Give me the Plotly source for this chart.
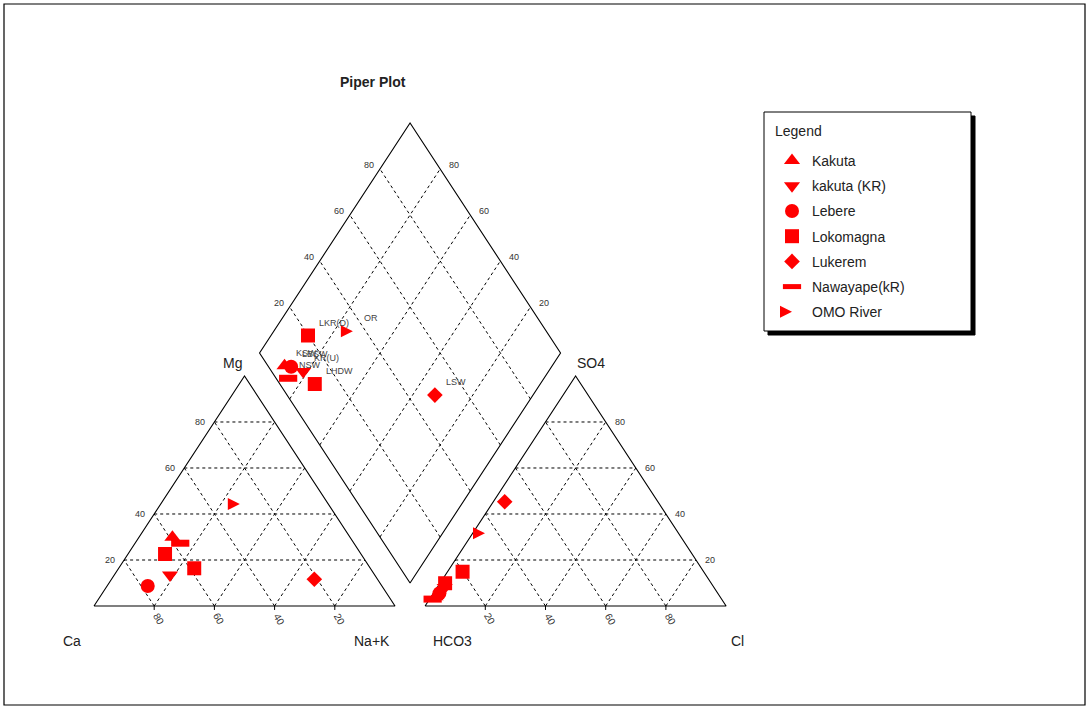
import math
import plotly.graph_objects as go

# ---------------- data ----------------
sites = ["Kakuta", "kakuta (KR)", "Lebere", "Lokomagna", "Lukerem", "Nawayape(kR)", "OMO River"]
site_symbols = ["triangle-up", "triangle-down", "circle", "square", "diamond", "line-ew", "arrow-right"]

sample_site = ["Kakuta", "kakuta (KR)", "Lebere", "Lokomagna", "Lokomagna", "Lukerem", "Nawayape(kR)", "OMO River"]
sample_label = ["KSW", "KR(U)", "LBSW", "LKR(D)", "LHDW", "LSW", "NSW", "OR"]
ca = [59.0, 68.0, 77.8, 65.1, 58.5, 21.0, 57.7, 29.4]
mg = [29.9, 13.5, 8.7, 22.6, 16.4, 11.6, 27.3, 44.3]
nak = [11.1, 18.5, 13.5, 12.3, 25.1, 67.4, 15.0, 26.3]
hco3 = [94.5, 89.5, 92.5, 80.1, 88.4, 50.9, 96.0, 64.3]
so4 = [4.0, 8.0, 5.5, 14.9, 9.9, 45.3, 3.0, 31.6]
cl = [1.5, 2.5, 2.0, 5.0, 1.7, 3.8, 1.0, 4.1]

ticks = [20, 40, 60, 80]
cation_base_ticks = [80, 60, 40, 20]
anion_base_ticks = [20, 40, 60, 80]

# ---------------- geometry ----------------
S3 = math.sqrt(3) / 2
GAP = 10.0
AX0 = 100 + GAP  # anion triangle left corner
BOT = ((100 + AX0) / 2, GAP / 2 * math.sqrt(3))
LEFT = (BOT[0] - 50, BOT[1] + 100 * S3)
RIGHT = (BOT[0] + 50, BOT[1] + 100 * S3)
TOP = (BOT[0], BOT[1] + 200 * S3)


def norm(a, b, c):
    t = a + b + c
    return 100 * a / t, 100 * b / t, 100 * c / t


cat_x, cat_y, an_x, an_y, di_x, di_y = [], [], [], [], [], []
for i in range(len(sample_site)):
    c, m, n = norm(ca[i], mg[i], nak[i])
    h, s, l = norm(hco3[i], so4[i], cl[i])
    cat_x.append(n + m / 2)
    cat_y.append(m * S3)
    an_x.append(AX0 + l + s / 2)
    an_y.append(s * S3)
    A = c + m
    B = s + l
    di_x.append(BOT[0] + (B - A) / 2)
    di_y.append(BOT[1] + (A + B) * S3)

fig = go.Figure()

DASH = "3px,3px"


def line(xs, ys, dash=None, width=1.1):
    fig.add_trace(go.Scatter(x=xs, y=ys, mode="lines", showlegend=False, hoverinfo="skip",
                             line=dict(color="black", width=width, dash=dash)))


# grid lines
for t in ticks:
    # cation
    line([t / 2, 100 - t / 2], [t * S3, t * S3], DASH, 1)
    line([t, 50 + t / 2], [0, (100 - t) * S3], DASH, 1)
    line([t, t / 2], [0, t * S3], DASH, 1)
    # anion
    line([AX0 + t / 2, AX0 + 100 - t / 2], [t * S3, t * S3], DASH, 1)
    line([AX0 + t, AX0 + 50 + t / 2], [0, (100 - t) * S3], DASH, 1)
    line([AX0 + t, AX0 + t / 2], [0, t * S3], DASH, 1)
    # diamond
    f = t / 100
    p1 = (BOT[0] - 50 * f, BOT[1] + 100 * S3 * f)
    p2 = (RIGHT[0] - 50 * f, RIGHT[1] + 100 * S3 * f)
    line([p1[0], p2[0]], [p1[1], p2[1]], DASH, 1)
    q1 = (BOT[0] + 50 * f, BOT[1] + 100 * S3 * f)
    q2 = (LEFT[0] + 50 * f, LEFT[1] + 100 * S3 * f)
    line([q1[0], q2[0]], [q1[1], q2[1]], DASH, 1)

# outlines
line([0, 100, 50, 0], [0, 0, 100 * S3, 0])
line([AX0, AX0 + 100, AX0 + 50, AX0], [0, 0, 100 * S3, 0])
line([BOT[0], RIGHT[0], TOP[0], LEFT[0], BOT[0]], [BOT[1], RIGHT[1], TOP[1], LEFT[1], BOT[1]])

# base tick marks
for t in ticks:
    line([t, t], [0, -1.5], None, 1)
    line([AX0 + t, AX0 + t], [0, -1.5], None, 1)

# data markers
for site, sym in zip(sites, site_symbols):
    idx = [i for i, s in enumerate(sample_site) if s == site]
    xs, ys = [], []
    for i in idx:
        xs += [cat_x[i], an_x[i], di_x[i]]
        ys += [cat_y[i], an_y[i], di_y[i]]
    if sym == "line-ew":
        marker = dict(symbol=sym, size=13, color="#ff0000", line=dict(color="#ff0000", width=7))
    elif sym == "arrow-right":
        marker = dict(symbol=sym, size=12, color="#ff0000", line=dict(width=0))
    elif sym == "diamond":
        marker = dict(symbol=sym, size=12, color="#ff0000", line=dict(width=0))
    else:
        marker = dict(symbol=sym, size=14, color="#ff0000", line=dict(width=0))
    fig.add_trace(go.Scatter(x=xs, y=ys, mode="markers", name=site, marker=marker,
                             legendgroup=site))

ann = []
FONT = "Liberation Sans, Arial, sans-serif"
TCOL = "#333333"


def txt(x, y, s, xs=0, ys=0, size=9, angle=0, color=TCOL, xanchor="center"):
    ann.append(dict(x=x, y=y, xref="x", yref="y", text=s, showarrow=False, xshift=xs, yshift=ys,
                    textangle=angle, xanchor=xanchor, yanchor="middle",
                    font=dict(family=FONT, size=size, color=color)))


for t in ticks:
    txt(t / 2, t * S3, str(t), xs=-14)
    txt(AX0 + 100 - t / 2, t * S3, str(t), xs=14)
    f = t / 100
    txt(LEFT[0] + 50 * f, LEFT[1] + 100 * S3 * f, str(t), xs=-11, ys=4)
    txt(RIGHT[0] - 50 * f, RIGHT[1] + 100 * S3 * f, str(t), xs=14, ys=4)
for t in cation_base_ticks:
    txt(100 - t, 0, str(t), xs=5, ys=-13, size=10, angle=60)
for t in anion_base_ticks:
    txt(AX0 + t, 0, str(t), xs=5, ys=-13, size=10, angle=60)

# sample labels in diamond
for i in range(len(sample_label)):
    txt(di_x[i], di_y[i], sample_label[i], xs=9, ys=13, size=9, color="#444444", xanchor="left")

# axis names
txt(50, 100 * S3, "Mg", xs=-12, ys=13, size=14, color="#222222")
txt(AX0 + 50, 100 * S3, "SO4", xs=15, ys=13, size=14, color="#222222")
txt(0, 0, "Ca", xs=-22, ys=-35, size=14, color="#222222")
txt(100, 0, "Na+K", xs=-23, ys=-35, size=14, color="#222222")
txt(AX0, 0, "HCO3", xs=27, ys=-35, size=14, color="#222222")
txt(AX0 + 100, 0, "Cl", xs=11, ys=-35, size=14, color="#222222")

W, H = 1089, 709
ann.append(dict(x=373 / W, y=1 - 82 / H, xref="paper", yref="paper", text="<b>Piper Plot</b>",
                showarrow=False, xanchor="center", yanchor="middle",
                font=dict(family=FONT, size=14, color="#222222")))
ann.append(dict(x=773 / W, y=1 - 131 / H, xref="paper", yref="paper", text="Legend",
                showarrow=False, xanchor="left", yanchor="middle",
                font=dict(family=FONT, size=14, color="#222222")))

# pixel mapping
PX = 3.01
PY = 2.656
x0 = -94 / PX
x1 = x0 + W / PX
y1 = 606 / PY
y0 = y1 - H / PY

shapes = [
    dict(type="rect", xref="paper", yref="paper", x0=4 / W, x1=1085 / W, y0=1 - 705 / H, y1=1 - 4 / H,
         line=dict(color="black", width=1.2), layer="below"),
    dict(type="rect", xref="paper", yref="paper", x0=768 / W, x1=975 / W, y0=1 - 335 / H, y1=1 - 116 / H,
         line=dict(color="black", width=1), fillcolor="black", layer="below"),
    dict(type="rect", xref="paper", yref="paper", x0=764 / W, x1=971 / W, y0=1 - 331 / H, y1=1 - 112 / H,
         line=dict(color="black", width=1), fillcolor="white", layer="below"),
]

fig.update_layout(
    width=W, height=H, margin=dict(l=0, r=0, t=0, b=0),
    paper_bgcolor="white", plot_bgcolor="rgba(0,0,0,0)",
    xaxis=dict(visible=False, range=[x0, x1], fixedrange=True),
    yaxis=dict(visible=False, range=[y0, y1], fixedrange=True),
    annotations=ann, shapes=shapes,
    legend=dict(x=772 / W, y=1 - 145 / H, xanchor="left", yanchor="top",
                bgcolor="rgba(0,0,0,0)", borderwidth=0, tracegroupgap=4,
                font=dict(family=FONT, size=14, color="#222222"), itemsizing="trace"),
    showlegend=True,
)

fig.write_html("out.html")
